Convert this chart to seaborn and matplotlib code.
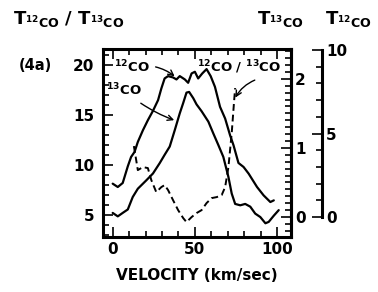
import matplotlib
matplotlib.use("Agg")
import matplotlib.pyplot as plt
import seaborn as sns
import pandas as pd
from matplotlib.ticker import MultipleLocator, FixedLocator

# 12CO brightness temperature (right outer axis, K)
vel_12 = [0, 3.1, 6.1, 9.2, 11.2, 13.3, 15.3, 18.4, 21.4, 24.5, 27.6, 29.6, 31.6, 33.7,
          36.7, 38.8, 40.8, 43.9, 45.9, 48.0, 50.0, 52.0, 54.5, 57.1, 59.6, 62.2, 65.3,
          68.4, 71.4, 73.5, 76.5, 79.6, 82.7, 87.8, 91.8, 95.9, 98.0]
t_12 = [2.0, 1.8, 2.04, 3.04, 3.6, 3.9, 4.5, 5.2, 5.8, 6.36, 7.0, 7.7, 8.3, 8.44,
        8.36, 8.24, 8.44, 8.24, 8.04, 8.6, 8.7, 8.3, 8.6, 8.86, 8.44, 7.8, 6.6,
        5.9, 4.9, 4.3, 3.24, 3.0, 2.6, 1.8, 1.3, 0.9, 1.0]

# 13CO brightness temperature (right inner axis, K)
vel_13 = [0, 3.1, 6.1, 9.2, 12.2, 15.3, 20.4, 24.5, 28.6, 31.6, 34.7, 37.8, 40.8, 42.9,
          44.9, 46.5, 49.0, 51.0, 54.1, 58.2, 61.2, 64.3, 67.3, 70.4, 72.4, 74.5, 77.6,
          80.6, 83.7, 86.7, 89.8, 92.9, 94.9, 98.0, 101.0]
t_13 = [0.06, 0.01, 0.06, 0.11, 0.29, 0.41, 0.53, 0.63, 0.78, 0.90, 1.02, 1.26, 1.50, 1.65,
        1.80, 1.81, 1.72, 1.63, 1.53, 1.38, 1.21, 1.04, 0.87, 0.58, 0.34, 0.19, 0.17,
        0.19, 0.15, 0.05, 0.0, -0.09, -0.07, 0.02, 0.10]

# ratio T12/T13 (left axis)
vel_r = [12.9, 15.3, 18.4, 21.4, 23.5, 26.5, 29.6, 31.6, 33.7, 36.7, 39.8, 42.9, 44.9,
         48.0, 51.0, 54.1, 57.1, 60.2, 63.3, 66.3, 68.4, 70.4, 72.4, 73.9, 74.5]
ratio = [11.9, 9.5, 9.8, 9.7, 8.5, 7.3, 7.8, 8.0, 7.5, 6.5, 5.5, 4.7, 4.3,
         4.8, 5.2, 5.5, 6.2, 6.7, 6.8, 7.0, 7.8, 9.8, 13.2, 16.5, 17.7]

sns.set_style("ticks")
plt.rcParams['font.family'] = ['DejaVu Sans']
plt.rcParams['font.weight'] = 'bold'
plt.rcParams['mathtext.fontset'] = 'dejavusans'
plt.rcParams['mathtext.default'] = 'bf'
for k in ('text.color', 'axes.labelcolor', 'xtick.color', 'ytick.color', 'axes.edgecolor'):
    plt.rcParams[k] = 'black'

fig = plt.figure(figsize=(3.78, 2.92), dpi=100)
ax = fig.add_axes([0.272, 0.188, 0.498, 0.644])
ax13 = ax.twinx()
ax12 = ax.twinx()

df12 = pd.DataFrame({'v': vel_12, 't': t_12})
df13 = pd.DataFrame({'v': vel_13, 't': t_13})
dfr = pd.DataFrame({'v': vel_r, 'r': ratio})

sns.lineplot(data=dfr, x='v', y='r', ax=ax, color='black', lw=1.4, linestyle=(0, (3.5, 2)))
sns.lineplot(data=df13, x='v', y='t', ax=ax13, color='black', lw=1.6)
sns.lineplot(data=df12, x='v', y='t', ax=ax12, color='black', lw=1.6)

ax.set_xlim(-6, 108.5)
ax.set_ylim(2.8, 21.6)
ax13.set_ylim(-0.29, 2.43)
ax12.set_ylim(-1.2, 10.06)
for a in (ax, ax13, ax12):
    a.set_xlabel('')
    a.set_ylabel('')

# main box
for s in ax.spines.values():
    s.set_linewidth(2.2)
ax.set_xticks([0, 50, 100])
ax.xaxis.set_minor_locator(MultipleLocator(10))
ax.set_yticks([5, 10, 15, 20])
ax.yaxis.set_minor_locator(MultipleLocator(1))
ax.tick_params(which='both', direction='in', top=True, width=1.2, labelsize=11)
ax.tick_params(axis='y', pad=6)
ax.tick_params(which='major', length=7)
ax.tick_params(which='minor', length=4)

ax13.set_yticks([0, 1, 2])
ax13.yaxis.set_minor_locator(MultipleLocator(0.1))
ax13.tick_params(which='both', direction='in', width=1.2, labelsize=11, pad=3)
ax13.tick_params(which='major', length=7)
ax13.tick_params(which='minor', length=4)
for s in ('top', 'bottom', 'left'):
    ax13.spines[s].set_visible(False)
ax13.spines['right'].set_linewidth(2.2)

# outer T12CO axis
for s in ('top', 'bottom', 'left'):
    ax12.spines[s].set_visible(False)
ax12.spines['right'].set_position(('axes', 1.165))
ax12.spines['right'].set_bounds(0, 10)
ax12.spines['right'].set_linewidth(2.2)
ax12.set_yticks([0, 5, 10])
ax12.yaxis.set_minor_locator(FixedLocator(list(range(0, 11))))
ax12.tick_params(which='both', direction='in', width=1.2, labelsize=11, pad=3)
ax12.tick_params(which='major', length=7)
ax12.tick_params(which='minor', length=4)

for lab in ax.get_xticklabels() + ax.get_yticklabels() + ax13.get_yticklabels() + ax12.get_yticklabels():
    lab.set_fontweight('bold')

ax.set_xlabel('VELOCITY (km/sec)', fontsize=11, fontweight='bold', labelpad=8)

# curve labels
ax.annotate(r'$^{12}$CO', xy=(39.0, 18.7), xytext=(11.6, 19.8), fontsize=9.5,
            fontweight='bold', ha='center', va='center',
            arrowprops=dict(arrowstyle='->', color='black', lw=1.0, connectionstyle='arc3,rad=-0.25'))
ax.annotate(r'$^{13}$CO', xy=(39.0, 14.4), xytext=(6.8, 17.5), fontsize=9.5,
            fontweight='bold', ha='center', va='center',
            arrowprops=dict(arrowstyle='->', color='black', lw=1.0, connectionstyle='arc3,rad=0.1'))
ax.text(77.0, 19.8, r'$^{12}$CO / $^{13}$CO', fontsize=9.5, fontweight='bold',
        ha='center', va='center')
ax.annotate('', xy=(73.8, 16.5), xytext=(88.0, 18.6),
            arrowprops=dict(arrowstyle='->', color='black', lw=1.0, connectionstyle='arc3,rad=0.2'))

# axis titles
fig.text(0.035, 0.935, r'$\mathbf{T_{^{12}CO}\ /\ T_{^{13}CO}}$', fontsize=13, ha='left', va='center')
fig.text(0.05, 0.775, '(4a)', fontsize=10.5, fontweight='bold', ha='left', va='center')
fig.text(0.68, 0.935, r'$\mathbf{T_{^{13}CO}}$', fontsize=13, ha='left', va='center')
fig.text(0.86, 0.935, r'$\mathbf{T_{^{12}CO}}$', fontsize=13, ha='left', va='center')

fig.savefig('out.png', dpi=100)
